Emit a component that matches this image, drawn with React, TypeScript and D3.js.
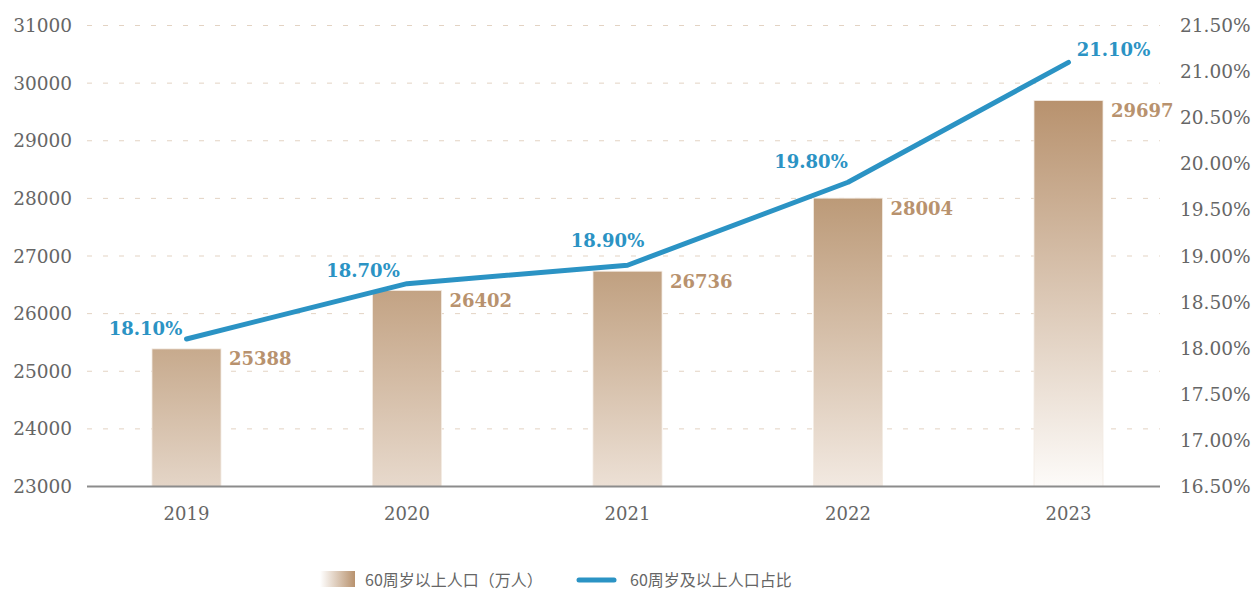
import React from "react";
import * as d3 from "d3";

const years = ["2019", "2020", "2021", "2022", "2023"];
const population = [25388, 26402, 26736, 28004, 29697];
const ratio = [18.1, 18.7, 18.9, 19.8, 21.1];
const leftTicks = [23000, 24000, 25000, 26000, 27000, 28000, 29000, 30000, 31000];
const rightTicks = [16.5, 17, 17.5, 18, 18.5, 19, 19.5, 20, 20.5, 21, 21.5];
const legendBar = "60周岁以上人口（万人）";
const legendLine = "60周岁及以上人口占比";

// styling / layout
const W = 1257, H = 591;
const barTop = ["#c7aa8d", "#c3a384", "#c0a080", "#bc9a78", "#b8926e"];
const barBottom = ["#e4d5c7", "#e7d9cc", "#ece0d5", "#f2e9e1", "#fdfbf9"];
const lineLabelOffset: [number, number][] = [[-41, -10], [-44, -13], [-20, -25], [-37, -21], [45, -13]];
const serif = "'DejaVu Serif', serif";
const sans = "'Noto Sans CJK SC', 'Noto Sans', sans-serif";

export default function App() {
  const x = d3.scalePoint<string>().domain(years).range([186.5, 1068.5]);
  const yL = d3.scaleLinear().domain([23000, 31000]).range([486.5, 25.5]);
  const yR = d3.scaleLinear().domain([16.5, 21.5]).range([486.5, 25.5]);
  const barW = 69;
  const gridX0 = 87, gridX1 = 1160;
  const line = d3
    .line<number>()
    .x((_, i) => x(years[i])!)
    .y((d) => yR(d));

  return (
    <svg width={W} height={H} style={{ position: "absolute", left: 0, top: 0 }}>
      <defs>
        {years.map((y, i) => (
          <linearGradient key={y} id={`bg${i}`} x1="0" y1="0" x2="0" y2="1">
            <stop offset="0%" stopColor={barTop[i]} />
            <stop offset="100%" stopColor={barBottom[i]} />
          </linearGradient>
        ))}
        <linearGradient id="legG" x1="0" y1="0" x2="1" y2="0">
          <stop offset="0%" stopColor="#ffffff" />
          <stop offset="100%" stopColor="#b8926e" />
        </linearGradient>
      </defs>

      {leftTicks.slice(1).map((t) => (
        <line
          key={t}
          x1={gridX0}
          x2={gridX1}
          y1={yL(t)}
          y2={yL(t)}
          stroke="#e3d3c3"
          strokeWidth={1}
          strokeDasharray="5 11"
        />
      ))}

      {leftTicks.map((t) => (
        <text
          key={t}
          x={72}
          y={yL(t)}
          textAnchor="end"
          dominantBaseline="central"
          fontFamily={serif}
          fontSize={18.5}
          fill="#666"
        >
          {t}
        </text>
      ))}
      {rightTicks.map((t) => (
        <text
          key={t}
          x={1180}
          y={yR(t)}
          textAnchor="start"
          dominantBaseline="central"
          fontFamily={serif}
          fontSize={18.5}
          fill="#666"
        >
          {t.toFixed(2)}%
        </text>
      ))}

      {population.map((v, i) => {
        const cx = x(years[i])!;
        return (
          <g key={i}>
            <rect
              x={cx - barW / 2}
              y={yL(v)}
              width={barW}
              height={yL(23000) - yL(v)}
              fill={`url(#bg${i})`}
              stroke="#f3ebe3"
              strokeWidth={0.8}
            />
            <text
              x={cx + barW / 2 + 8}
              y={yL(v) + 10}
              dominantBaseline="central"
              fontFamily={serif}
              fontSize={18}
              fontWeight="bold"
              fill="#b8926e"
            >
              {v}
            </text>
          </g>
        );
      })}

      <line x1={gridX0} x2={gridX1} y1={yL(23000)} y2={yL(23000)} stroke="#8c8c8c" strokeWidth={2} />

      {years.map((y) => (
        <text
          key={y}
          x={x(y)}
          y={513}
          textAnchor="middle"
          dominantBaseline="central"
          fontFamily={serif}
          fontSize={18}
          fill="#666"
        >
          {y}
        </text>
      ))}

      <path d={line(ratio)!} fill="none" stroke="#2b93c4" strokeWidth={5} strokeLinecap="round" strokeLinejoin="round" />

      {ratio.map((r, i) => (
        <text
          key={i}
          x={x(years[i])! + lineLabelOffset[i][0]}
          y={yR(r) + lineLabelOffset[i][1]}
          textAnchor="middle"
          dominantBaseline="central"
          fontFamily={serif}
          fontSize={18}
          fontWeight="bold"
          fill="#2b93c4"
        >
          {r.toFixed(2)}%
        </text>
      ))}

      <g>
        <rect x={320} y={571} width={35} height={16} fill="url(#legG)" />
        <text x={365} y={579} dominantBaseline="central" fontFamily={sans} fontSize={16} fill="#666">
          {legendBar}
        </text>
        <line x1={579} x2={614} y1={580} y2={580} stroke="#2b93c4" strokeWidth={5} strokeLinecap="round" />
        <text x={630} y={579} dominantBaseline="central" fontFamily={sans} fontSize={16} fill="#666">
          {legendLine}
        </text>
      </g>
    </svg>
  );
}
